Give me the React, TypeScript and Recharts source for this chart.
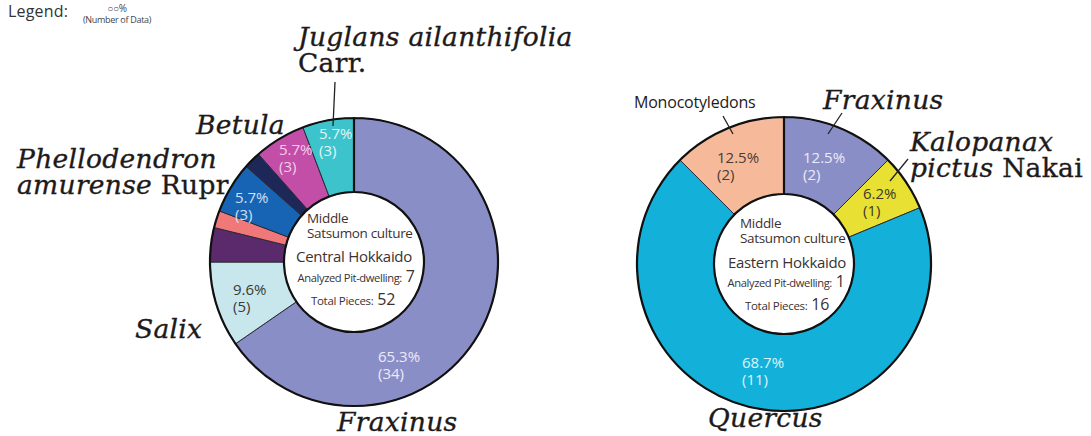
import React from 'react';
import { PieChart, Pie, Cell } from 'recharts';

// ---------------- data ----------------
const LEFT_NAMES = [
  'Fraxinus',
  'Salix',
  'Unidentified A',
  'Unidentified B',
  'Phellodendron amurense Rupr',
  'Unidentified C',
  'Betula',
  'Juglans ailanthifolia Carr.',
];
const LEFT_VALUES = [34, 5, 2, 1, 3, 1, 3, 3];

const RIGHT_NAMES = ['Fraxinus', 'Kalopanax pictus Nakai', 'Quercus', 'Monocotyledons'];
const RIGHT_VALUES = [2, 1, 11, 2];

const LEFT_CENTER_LINES = ['Middle', 'Satsumon culture', 'Central Hokkaido', 'Analyzed Pit-dwelling:', 'Total Pieces:'];
const LEFT_PIT = 7;
const RIGHT_CENTER_LINES = ['Middle', 'Satsumon culture', 'Eastern Hokkaido', 'Analyzed Pit-dwelling:', 'Total Pieces:'];
const RIGHT_PIT = 1;

// ---------------- styles ----------------
const LEFT_COLORS = ['#8a8ec6', '#c7e7ec', '#5b2a6c', '#f07878', '#1864b4', '#1e2858', '#c24ea8', '#3dc3cc'];
const RIGHT_COLORS = ['#8a8ec6', '#e8e032', '#13b1d9', '#f6ba9b'];

const SANS = '"Open Sans", "Noto Sans", sans-serif';
const SERIF = '"DejaVu Serif", serif';
const INK = '#3b3232';

type Seg = { t: string; i?: boolean };
type LabelLayout = {
  pct?: { dx: number; dy: number; color: string };
  name?: { dx: number; dy: number; lines: Seg[][]; sans?: boolean };
  leader?: [number, number, number, number];
};

const LEFT_LAYOUT: LabelLayout[] = [
  {
    pct: { dx: 24, dy: 100, color: '#eceaf8' },
    name: { dx: -17, dy: 169, lines: [[{ t: 'Fraxinus', i: true }]] },
  },
  {
    pct: { dx: -121, dy: 33, color: '#3a3a3a' },
    name: { dx: -219, dy: 76, lines: [[{ t: 'Salix', i: true }]] },
  },
  {},
  {},
  {
    pct: { dx: -119, dy: -59, color: '#cfe0f6' },
    name: {
      dx: -337,
      dy: -94,
      lines: [[{ t: 'Phellodendron', i: true }], [{ t: 'amurense', i: true }, { t: ' Rupr' }]],
    },
  },
  {},
  {
    pct: { dx: -75, dy: -107, color: '#f4cdec' },
    name: { dx: -158, dy: -128, lines: [[{ t: 'Betula', i: true }]] },
  },
  {
    pct: { dx: -35, dy: -123, color: '#e0f6f8' },
    name: {
      dx: -56,
      dy: -216,
      lines: [[{ t: 'Juglans ailanthifolia', i: true }], [{ t: 'Carr.' }]],
    },
    leader: [-19, -180, -21, -136],
  },
];

const RIGHT_LAYOUT: LabelLayout[] = [
  {
    pct: { dx: 19, dy: -101, color: '#ecebf8' },
    name: { dx: 39, dy: -155, lines: [[{ t: 'Fraxinus', i: true }]] },
    leader: [58, -151, 44, -130],
  },
  {
    pct: { dx: 79, dy: -65, color: '#3a3a2a' },
    name: {
      dx: 126,
      dy: -113,
      lines: [[{ t: 'Kalopanax', i: true }], [{ t: 'pictus', i: true }, { t: ' Nakai' }]],
    },
    leader: [124, -105, 106, -83],
  },
  {
    pct: { dx: -42, dy: 104, color: '#dcf3fb' },
    name: { dx: -76, dy: 163, lines: [[{ t: 'Quercus', i: true }]] },
  },
  {
    pct: { dx: -67, dy: -101, color: '#4a3a32' },
    name: { dx: -150, dy: -156, sans: true, lines: [[{ t: 'Monocotyledons' }]] },
    leader: [-61, -148, -51, -130],
  },
];

const pctText = (v: number, total: number) => `${(Math.floor((v / total) * 1000) / 10).toFixed(1)}%`;

const makeLabel = (layout: LabelLayout[], values: number[]) => {
  const total = values.reduce((a, b) => a + b, 0);
  return (props: any) => {
    const { cx, cy, index } = props;
    const L = layout[index] || {};
    const v = values[index];
    return (
      <g key={`lbl-${index}`}>
        {L.pct && (
          <text x={cx + L.pct.dx} y={cy + L.pct.dy} fill={L.pct.color} fontFamily={SANS} fontSize={15}>
            <tspan x={cx + L.pct.dx} dy={0}>
              {pctText(v, total)}
            </tspan>
            <tspan x={cx + L.pct.dx} dy={17}>
              ({v})
            </tspan>
          </text>
        )}
        {L.name && (
          <text
            x={cx + L.name.dx}
            y={cy + L.name.dy}
            fill="#1e1a1a"
            stroke={L.name.sans ? 'none' : '#1e1a1a'}
            strokeWidth={L.name.sans ? 0 : 0.35}
            fontFamily={L.name.sans ? SANS : SERIF}
            fontSize={L.name.sans ? 16 : 26.5}
            letterSpacing={L.name.sans ? -0.2 : 0.3}
          >
            {L.name.lines.map((line, li) => (
              <tspan key={li} x={cx + L.name!.dx} dy={li === 0 ? 0 : 26}>
                {line.map((s, si) => (
                  <tspan key={si} fontStyle={s.i ? 'italic' : 'normal'}>
                    {s.t}
                  </tspan>
                ))}
              </tspan>
            ))}
          </text>
        )}
        {L.leader && (
          <line
            x1={cx + L.leader[0]}
            y1={cy + L.leader[1]}
            x2={cx + L.leader[2]}
            y2={cy + L.leader[3]}
            stroke="#222"
            strokeWidth={1.3}
          />
        )}
      </g>
    );
  };
};

const makeCenter = (lines: string[], pit: number, total: number, off: { startDx: number; ys: number[]; mids: number[] }) => {
  return (props: any) => {
    const { cx, cy } = props;
    return (
      <g key="center">
        <text x={cx + off.startDx} y={cy + off.ys[0]} fill={INK} fontFamily={SANS} fontSize={13.5} letterSpacing={-0.3}>
          {lines[0]}
        </text>
        <text x={cx + off.startDx} y={cy + off.ys[1]} fill={INK} fontFamily={SANS} fontSize={13.5} letterSpacing={-0.35}>
          {lines[1]}
        </text>
        <text
          x={cx + off.mids[0]}
          y={cy + off.ys[2]}
          fill={INK}
          fontFamily={SANS}
          fontSize={15}
          letterSpacing={-0.3}
          textAnchor="middle"
        >
          {lines[2]}
        </text>
        <text
          x={cx + off.mids[1]}
          y={cy + off.ys[3]}
          fill={INK}
          fontFamily={SANS}
          fontSize={11.2}
          letterSpacing={-0.4}
          textAnchor="middle"
        >
          {lines[3]}
          <tspan fontSize={16}> {pit}</tspan>
        </text>
        <text
          x={cx + off.mids[2]}
          y={cy + off.ys[4]}
          fill={INK}
          fontFamily={SANS}
          fontSize={11.5}
          letterSpacing={-0.3}
          textAnchor="middle"
        >
          {lines[4]}
          <tspan fontSize={16}> {total}</tspan>
        </text>
      </g>
    );
  };
};

const leftData = LEFT_NAMES.map((name, i) => ({ name, value: LEFT_VALUES[i] }));
const rightData = RIGHT_NAMES.map((name, i) => ({ name, value: RIGHT_VALUES[i] }));
const leftTotal = LEFT_VALUES.reduce((a, b) => a + b, 0);
const rightTotal = RIGHT_VALUES.reduce((a, b) => a + b, 0);

const ring = [{ name: 'ring', value: 1 }];

const LEFT_GEOM = { cx: 354, cy: 262, inner: 70, outer: 144 };
const RIGHT_GEOM = { cx: 784, cy: 264, inner: 70, outer: 147 };

export default function App() {
  return (
    <div
      style={{
        position: 'absolute',
        left: 0,
        top: 0,
        width: 1091,
        height: 436,
        background: '#ffffff',
        overflow: 'hidden',
      }}
    >
      <div
        style={{
          position: 'absolute',
          left: 8,
          top: 0,
          fontFamily: SANS,
          fontSize: 16,
          color: '#333',
          letterSpacing: 0.2,
        }}
      >
        Legend:
      </div>
      <div
        style={{
          position: 'absolute',
          left: 78,
          top: 3,
          width: 78,
          textAlign: 'center',
          fontFamily: SANS,
          fontSize: 9,
          lineHeight: '11px',
          color: '#444',
          letterSpacing: -0.3,
        }}
      >
        <div style={{ fontSize: 10 }}>○○%</div>
        <div style={{ fontSize: 9 }}>(Number of Data)</div>
      </div>
      <PieChart
        width={1091}
        height={436}
        margin={{ top: 0, right: 0, bottom: 0, left: 0 }}
        style={{ position: 'absolute', left: 0, top: 0 }}
      >
        <Pie
          data={leftData}
          dataKey="value"
          cx={LEFT_GEOM.cx}
          cy={LEFT_GEOM.cy}
          innerRadius={LEFT_GEOM.inner}
          outerRadius={LEFT_GEOM.outer}
          startAngle={90}
          endAngle={-270}
          stroke="#2a2a38"
          strokeWidth={1}
          isAnimationActive={false}
          label={makeLabel(LEFT_LAYOUT, LEFT_VALUES)}
          labelLine={false}
        >
          {leftData.map((d, i) => (
            <Cell key={d.name} fill={LEFT_COLORS[i]} />
          ))}
        </Pie>
        <Pie
          data={ring}
          dataKey="value"
          cx={LEFT_GEOM.cx}
          cy={LEFT_GEOM.cy}
          innerRadius={LEFT_GEOM.inner}
          outerRadius={LEFT_GEOM.outer}
          startAngle={90}
          endAngle={-270}
          stroke="#111"
          strokeWidth={2.2}
          isAnimationActive={false}
          label={makeCenter(LEFT_CENTER_LINES, LEFT_PIT, leftTotal, {
            startDx: -47,
            ys: [-39, -24, 0, 20, 43],
            mids: [0, 2, -1],
          })}
          labelLine={false}
        >
          <Cell fill="none" />
        </Pie>

        <Pie
          data={rightData}
          dataKey="value"
          cx={RIGHT_GEOM.cx}
          cy={RIGHT_GEOM.cy}
          innerRadius={RIGHT_GEOM.inner}
          outerRadius={RIGHT_GEOM.outer}
          startAngle={90}
          endAngle={-270}
          stroke="#2a2a38"
          strokeWidth={1}
          isAnimationActive={false}
          label={makeLabel(RIGHT_LAYOUT, RIGHT_VALUES)}
          labelLine={false}
        >
          {rightData.map((d, i) => (
            <Cell key={d.name} fill={RIGHT_COLORS[i]} />
          ))}
        </Pie>
        <Pie
          data={ring}
          dataKey="value"
          cx={RIGHT_GEOM.cx}
          cy={RIGHT_GEOM.cy}
          innerRadius={RIGHT_GEOM.inner}
          outerRadius={RIGHT_GEOM.outer}
          startAngle={90}
          endAngle={-270}
          stroke="#111"
          strokeWidth={2.2}
          isAnimationActive={false}
          label={makeCenter(RIGHT_CENTER_LINES, RIGHT_PIT, rightTotal, {
            startDx: -44,
            ys: [-36, -21, 4, 23, 46],
            mids: [3, 2, 3],
          })}
          labelLine={false}
        >
          <Cell fill="none" />
        </Pie>
      </PieChart>
    </div>
  );
}
